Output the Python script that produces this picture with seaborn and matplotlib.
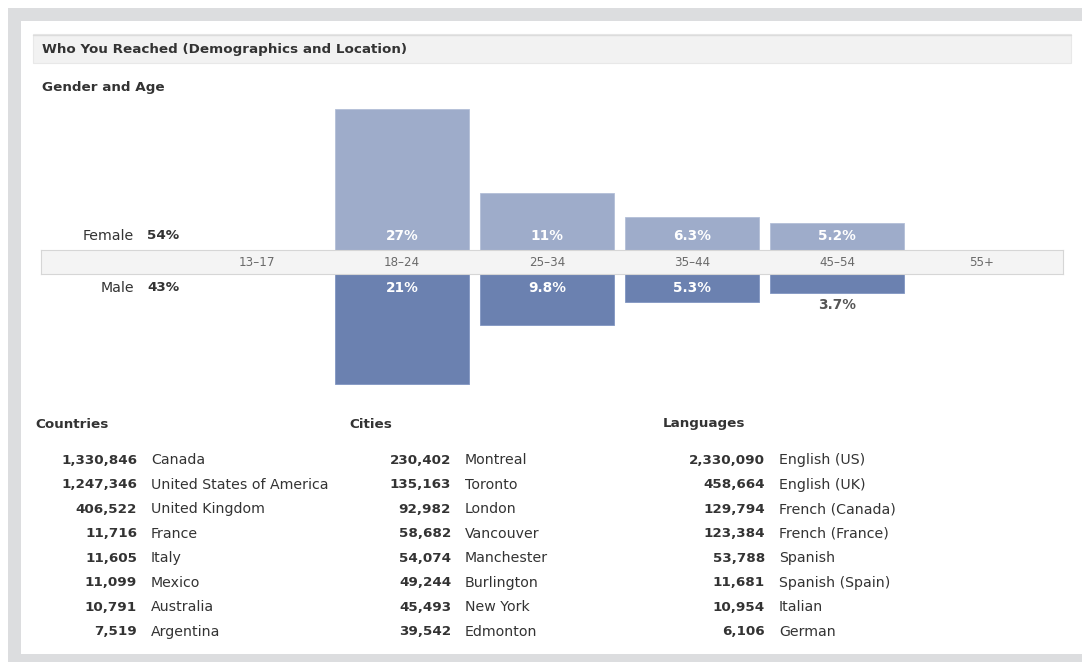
import matplotlib
matplotlib.use("Agg")
import pandas as pd
import seaborn as sns
from matplotlib import pyplot as plt
from matplotlib.patches import Rectangle

# Chart data
age_groups = ["13–17", "18–24", "25–34", "35–44", "45–54", "55+"]
female_pct = [0, 27, 11, 6.3, 5.2, 0]
male_pct = [0, 21, 9.8, 5.3, 3.7, 0]
female_total = "54%"
male_total = "43%"

country_names = ["Canada", "United States of America", "United Kingdom", "France",
                 "Italy", "Mexico", "Australia", "Argentina"]
country_counts = [1330846, 1247346, 406522, 11716, 11605, 11099, 10791, 7519]

city_names = ["Montreal", "Toronto", "London", "Vancouver", "Manchester",
              "Burlington", "New York", "Edmonton"]
city_counts = [230402, 135163, 92982, 58682, 54074, 49244, 45493, 39542]

language_names = ["English (US)", "English (UK)", "French (Canada)", "French (France)",
                  "Spanish", "Spanish (Spain)", "Italian", "German"]
language_counts = [2330090, 458664, 129794, 123384, 53788, 11681, 10954, 6106]

W, H = 1082, 662
FEMALE_COLOR = "#9eacca"
MALE_COLOR = "#6b81b0"
TEXT_DARK = "#333333"
PX_PER_PCT = 5.22
BOLD_SIZE = 9.7
REG_SIZE = 10.2

sns.set_theme(style="white")
plt.rcParams["font.family"] = ["DejaVu Sans"]

fig = plt.figure(figsize=(W / 100, H / 100), dpi=100)
fig.patch.set_facecolor("white")


def fx(x):
    return x / W


def fy(y):
    return 1 - y / H


def box(x0, y0, x1, y1):
    # figure-coordinate rect from pixel corners (top-left origin)
    return [fx(x0), fy(y1), fx(x1) - fx(x0), fy(y0) - fy(y1)]


# outer gray frame
for x0, y0, x1, y1 in [(8, 8, W, 21), (8, 8, 21, H), (8, 654, W, H)]:
    fig.patches.append(Rectangle((fx(x0), fy(y1)), fx(x1) - fx(x0), fy(y0) - fy(y1),
                                 transform=fig.transFigure, facecolor="#dcdddf",
                                 edgecolor="none", zorder=0))

# header band
fig.patches.append(Rectangle((fx(33), fy(63)), fx(1071) - fx(33), fy(34) - fy(63),
                             transform=fig.transFigure, facecolor="#f2f2f2",
                             edgecolor="#e8e8e8", linewidth=0.8, zorder=0))
fig.lines.append(plt.Line2D([fx(33), fx(1071)], [fy(34.5), fy(34.5)],
                            transform=fig.transFigure, color="#dcdcdc", linewidth=1))
fig.text(fx(42), fy(49), "Who You Reached (Demographics and Location)", fontsize=BOLD_SIZE,
         fontweight="bold", color=TEXT_DARK, va="center", ha="left")
fig.text(fx(42), fy(87), "Gender and Age", fontsize=BOLD_SIZE, fontweight="bold",
         color=TEXT_DARK, va="center", ha="left")

# bar chart axes
left, right = 41, 1063
xlim = ((left - 257) / 145, (right - 257) / 145)
ax_f = fig.add_axes(box(left, 100, right, 250))
ax_m = fig.add_axes(box(left, 274, right, 400))
ax_band = fig.add_axes(box(left, 250, right, 274))

df = pd.DataFrame({"age": age_groups, "female": female_pct, "male": male_pct})

sns.barplot(data=df, x="age", y="female", order=age_groups, color=FEMALE_COLOR,
            saturation=1, width=0.924, edgecolor="#b3bfd8", linewidth=0.6, ax=ax_f)
sns.barplot(data=df, x="age", y="male", order=age_groups, color=MALE_COLOR,
            saturation=1, width=0.924, edgecolor="#8196c2", linewidth=0.6, ax=ax_m)

ax_f.set_ylim(0, 150 / PX_PER_PCT)
ax_m.set_ylim(126 / PX_PER_PCT, 0)

for ax in (ax_f, ax_m, ax_band):
    ax.set_xlim(*xlim)
    ax.set_xticks([])
    ax.set_yticks([])
    ax.set_xlabel("")
    ax.set_ylabel("")
    ax.patch.set_alpha(0)

for ax in (ax_f, ax_m):
    for s in ax.spines.values():
        s.set_visible(False)

ax_band.set_ylim(0, 1)
ax_band.set_facecolor("#f4f4f4")
ax_band.patch.set_alpha(1)
for s in ax_band.spines.values():
    s.set_color("#d6d6d6")
    s.set_linewidth(0.8)
for i, lab in enumerate(age_groups):
    ax_band.text(i, 0.5, lab, ha="center", va="center", fontsize=8.6, color="#6a6a6a")

# value labels
for i, v in enumerate(female_pct):
    if v > 0:
        ax_f.annotate(f"{v:g}%", (i, 0), xytext=(0, 14), textcoords="offset pixels",
                      ha="center", va="center", fontsize=9.8, fontweight="bold", color="white")
for i, v in enumerate(male_pct):
    if v <= 0:
        continue
    if v * PX_PER_PCT < 24:
        ax_m.annotate(f"{v:g}%", (i, v), xytext=(0, -12), textcoords="offset pixels",
                      ha="center", va="center", fontsize=9.8, fontweight="bold", color="#555555")
    else:
        ax_m.annotate(f"{v:g}%", (i, 0), xytext=(0, -14), textcoords="offset pixels",
                      ha="center", va="center", fontsize=9.8, fontweight="bold", color="white")

# gender totals
for y, name, total in [(236, "Female", female_total), (288, "Male", male_total)]:
    fig.text(fx(134), fy(y), name, ha="right", va="center", fontsize=REG_SIZE, color=TEXT_DARK)
    fig.text(fx(147), fy(y), total, ha="left", va="center", fontsize=BOLD_SIZE,
             fontweight="bold", color=TEXT_DARK)

# location tables
tables = [
    ("Countries", 35, 137, country_counts, country_names),
    ("Cities", 349, 451, city_counts, city_names),
    ("Languages", 663, 765, language_counts, language_names),
]
for title, x_title, x_num, counts, names in tables:
    fig.text(fx(x_title), fy(424), title, ha="left", va="center", fontsize=BOLD_SIZE,
             fontweight="bold", color=TEXT_DARK)
    for k, (c, n) in enumerate(zip(counts, names)):
        y = 460 + 24.55 * k
        fig.text(fx(x_num), fy(y), f"{c:,}", ha="right", va="center", fontsize=BOLD_SIZE,
                 fontweight="bold", color=TEXT_DARK)
        fig.text(fx(x_num + 14), fy(y), n, ha="left", va="center", fontsize=REG_SIZE,
                 color=TEXT_DARK)

fig.savefig("out.png", dpi=100)
